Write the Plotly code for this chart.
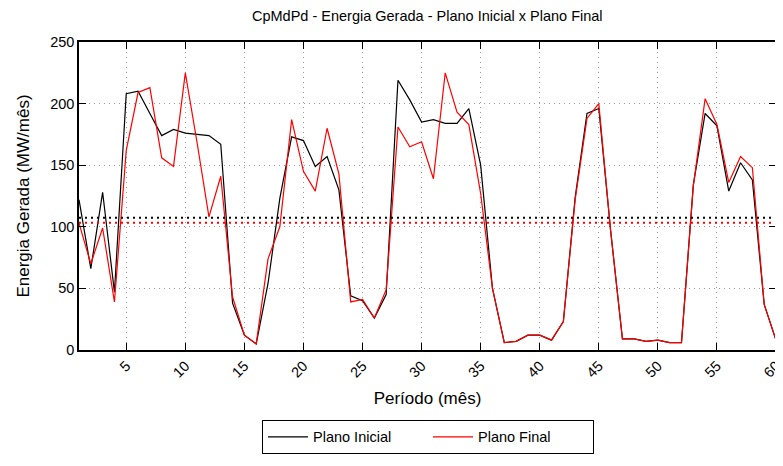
import plotly.graph_objects as go

# Dados
periodos = list(range(1, 61))

plano_inicial = [122, 66, 128, 47, 208, 210, 192, 174, 179, 176,
                 175, 174, 167, 38, 12, 5, 54, 123, 173, 170,
                 149, 157, 130, 44, 40, 26, 45, 219, 203, 185,
                 187, 184, 184, 196, 150, 50, 6, 7, 12, 12,
                 8, 23, 124, 192, 196, 97, 9, 9, 7, 8,
                 6, 6, 134, 192, 182, 129, 152, 138, 37, 8]

plano_final = [103, 70, 99, 39, 162, 209, 213, 156, 149, 225,
               168, 108, 141, 43, 12, 5, 74, 100, 187, 145,
               129, 180, 143, 39, 41, 26, 49, 181, 165, 169,
               139, 225, 193, 183, 127, 50, 6, 7, 12, 12,
               8, 23, 122, 188, 200, 97, 9, 9, 7, 8,
               6, 6, 133, 204, 183, 136, 157, 148, 37, 8]

media_inicial = 107.4
media_final = 103.3

fig = go.Figure()

fig.add_trace(go.Scatter(x=periodos, y=plano_inicial, mode='lines', name='Plano Inicial',
                         line=dict(color='black', width=1.2)))
fig.add_trace(go.Scatter(x=periodos, y=plano_final, mode='lines', name='Plano Final',
                         line=dict(color='red', width=1.2)))

# Linhas de média (pontilhadas)
fig.add_trace(go.Scatter(x=[1, 60], y=[media_inicial, media_inicial], mode='lines', showlegend=False,
                         line=dict(color='black', width=2, dash='2px,4px')))
fig.add_trace(go.Scatter(x=[1, 60], y=[media_final, media_final], mode='lines', showlegend=False,
                         line=dict(color='red', width=2, dash='2px,4px')))

fonte = 'Liberation Sans, Arial, sans-serif'

# a página tem margem de 8px no body, por isso a figura é um pouco menor
fig.update_layout(
    width=775, height=458,
    margin=dict(l=71, r=7, t=34, b=116, autoexpand=False),
    plot_bgcolor='white', paper_bgcolor='white',
    font=dict(family=fonte, size=14.5, color='black'),
    title=dict(text='CpMdPd - Energia Gerada - Plano Inicial x Plano Final',
               x=0.541, xanchor='center', y=0.982, yanchor='middle',
               font=dict(size=14.5)),
    xaxis=dict(
        title=dict(text='Período (mês)', standoff=13),
        range=[1, 60], tickvals=list(range(5, 61, 5)), tickangle=-45,
        ticklabeloverflow='allow',
        showgrid=True, gridcolor='#999999', griddash='1px,4px', gridwidth=1,
        showline=True, linecolor='black', linewidth=1.5, mirror='ticks',
        ticks='inside', ticklen=7, tickcolor='black', zeroline=False,
        automargin=False,
    ),
    yaxis=dict(
        title=dict(text='Energia Gerada (MW/mês)', standoff=16),
        range=[0, 250], dtick=50,
        showgrid=True, gridcolor='#999999', griddash='1px,4px', gridwidth=1,
        showline=True, linecolor='black', linewidth=1.5, mirror='ticks',
        ticks='inside', ticklen=7, tickcolor='black', zeroline=False,
        automargin=False,
    ),
    legend=dict(
        orientation='h', x=0.5007, xanchor='center', y=-0.227, yanchor='top',
        bordercolor='black', borderwidth=1, font=dict(size=14.5),
        itemwidth=40, entrywidth=110, tracegroupgap=0,
    ),
)

fig.write_html("out.html")
